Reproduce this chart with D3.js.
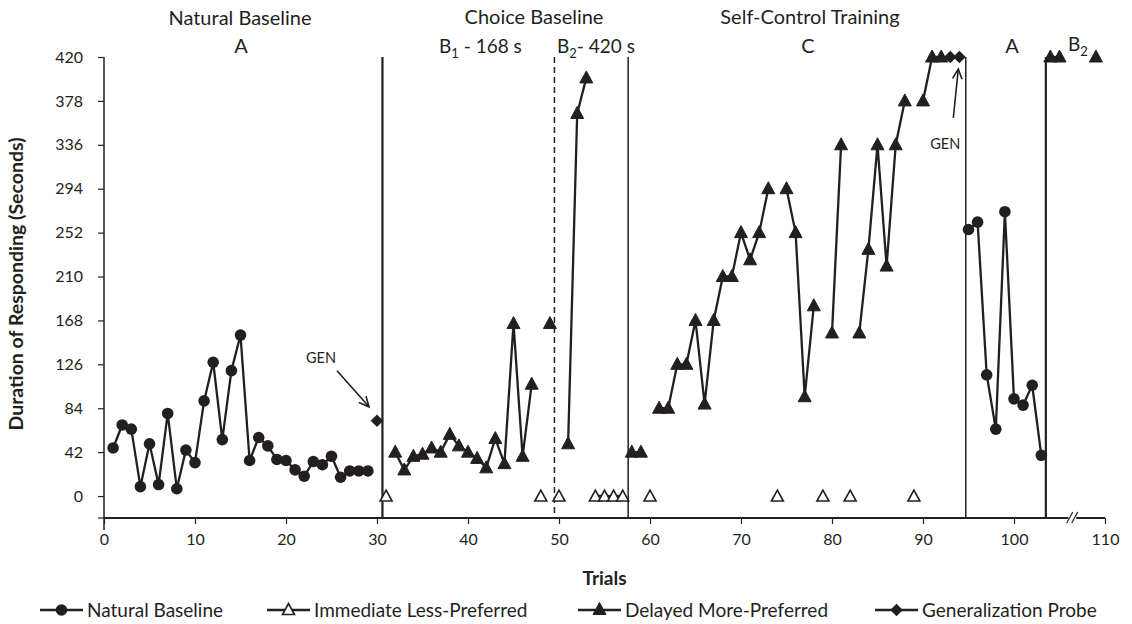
<!DOCTYPE html>
<html>
<head>
<meta charset="utf-8">
<script src="https://cdn.jsdelivr.net/npm/d3@7/dist/d3.min.js"></script>
<style>
  html, body { margin: 0; padding: 0; background: #fff; }
  svg { display: block; font-family: Lato, "Open Sans", sans-serif; }
</style>
</head>
<body>
<svg id="chart" width="1132" height="624"></svg>
<script>
// ---------------- data ----------------
const naturalTrials = [1,2,3,4,5,6,7,8,9,10,11,12,13,14,15,16,17,18,19,20,21,22,23,24,25,26,27,28,29,
                       95,96,97,98,99,100,101,102,103];
const naturalValues = [46,68,64,9,50,11,79,7,44,32,91,128,54,120,154,34,56,48,35,34,25,19,33,30,38,18,24,24,24,
                       255,262,116,64,272,93,87,106,39];

const immediateTrials = [31,48,50,54,55,56,57,60,74,79,82,89];
const immediateValues = [0,0,0,0,0,0,0,0,0,0,0,0];

const delayedTrials = [32,33,34,35,36,37,38,39,40,41,42,43,44,45,46,47,49,51,52,53,58,59,
                       61,62,63,64,65,66,67,68,69,70,71,72,73,75,76,77,78,80,81,83,84,85,86,87,88,90,91,92,
                       104,105,109];
const delayedValues = [42,25,38,40,46,42,59,48,42,36,27,55,31,165,38,107,165,50,366,400,42,42,
                       84,84,126,126,168,88,168,210,210,252,226,252,294,294,252,95,182,156,336,156,236,336,220,336,378,378,420,420,
                       420,420,420];

const probeTrials = [30,93,94];
const probeValues = [72,420,420];

const yTicks = [0,42,84,126,168,210,252,294,336,378,420];
const xTicks = [0,10,20,30,40,50,60,70,80,90,100,110];

const phaseLines = [30.6, 49.5, 57.6, 94.7, 103.5];
const phaseDashed = [false, true, false, false, false];
const phaseWidths = [2.2, 1.5, 1.5, 1.5, 2.2];

const seriesNames = ["Natural Baseline","Immediate Less-Preferred","Delayed More-Preferred","Generalization Probe"];

// ---------------- setup ----------------
const ink = "#231f20";
const svg = d3.select("#chart");
const x = d3.scaleLinear().domain([0,110]).range([104,1105]);
const y = d3.scaleLinear().domain([-21,420]).range([518,57]);

// axes
const yAxis = d3.axisLeft(y).tickValues(yTicks).tickSize(6).tickPadding(15).tickFormat(d3.format("d"));
const gy = svg.append("g").attr("transform", `translate(${x(0)},0)`).call(yAxis);
gy.select(".domain").remove();
gy.append("line").attr("x1",0).attr("x2",0).attr("y1",y(420)).attr("y2",y(-21)+12)
  .attr("stroke",ink).attr("stroke-width",1.5);
gy.append("line").attr("x1",-6).attr("x2",0).attr("y1",y(-21)).attr("y2",y(-21))
  .attr("stroke",ink).attr("stroke-width",1.2);
gy.selectAll(".tick line").attr("stroke",ink).attr("stroke-width",1.2);
gy.selectAll(".tick text").attr("fill",ink).style("font-size","16px").style("font-family","Lato");

const xAxis = d3.axisBottom(x).tickValues(xTicks).tickSize(6).tickPadding(10).tickFormat(d3.format("d"));
const gx = svg.append("g").attr("transform", `translate(0,${y(-21)})`).call(xAxis);
gx.select(".domain").attr("d", `M${x(0)},0H${x(110)}`).attr("stroke",ink).attr("stroke-width",2);
gx.selectAll(".tick line").attr("stroke",ink).attr("stroke-width",1.2);
gx.selectAll(".tick text").attr("fill",ink).style("font-size","16px").style("font-family","Lato");

// axis break
const bx = x(106.4);
gx.append("rect").attr("x",bx-4).attr("y",-3).attr("width",8).attr("height",6).attr("fill","#fff");
[-2.5,2.5].forEach(o => {
  gx.append("line").attr("x1",bx+o-3).attr("y1",5).attr("x2",bx+o+3).attr("y2",-6)
    .attr("stroke",ink).attr("stroke-width",1.2);
});

// axis titles
svg.append("text").attr("x",(x(0)+x(110))/2).attr("y",585).attr("text-anchor","middle")
  .attr("fill",ink).style("font-size","19px").style("font-weight","bold").text("Trials");
svg.append("text").attr("transform","translate(23,284) rotate(-90)").attr("text-anchor","middle")
  .attr("fill",ink).style("font-size","19.5px").style("font-weight","bold").text("Duration of Responding (Seconds)");

// phase lines
phaseLines.forEach((p,i) => {
  svg.append("line").attr("x1",x(p)).attr("x2",x(p)).attr("y1",y(420)).attr("y2",y(-21))
    .attr("stroke",ink).attr("stroke-width",phaseWidths[i])
    .attr("stroke-dasharray", phaseDashed[i] ? "6,4" : null);
});

// phase labels
const lab = (tx,ty,t,size) => svg.append("text").attr("x",tx).attr("y",ty).attr("text-anchor","middle")
  .attr("fill",ink).style("font-size",(size||20)+"px").text(t);
lab(240,25,"Natural Baseline");
lab(241,53,"A");
lab(534,24,"Choice Baseline");
lab(810,24,"Self-Control Training");
lab(808,53,"C");
lab(1012,53,"A");
function subLabel(tx,ty,sub,rest){
  const t = svg.append("text").attr("x",tx).attr("y",ty).attr("fill",ink).style("font-size","19px");
  t.append("tspan").text("B");
  t.append("tspan").attr("dy",5).style("font-size","13px").text(sub);
  t.append("tspan").attr("dy",-5).text(rest);
}
subLabel(439,53,"1"," - 168 s");
subLabel(557,53,"2","- 420 s");
subLabel(1068,51,"2","");

// ---------------- marks ----------------
function pairs(ts, vs){ return ts.map((t,i)=>({t, v:vs[i]})); }
function segments(data){
  const segs = []; let cur = [];
  data.forEach((d,i) => {
    if (i>0 && d.t - data[i-1].t > 1) { segs.push(cur); cur = []; }
    cur.push(d);
  });
  if (cur.length) segs.push(cur);
  return segs;
}
const line = d3.line().x(d=>x(d.t)).y(d=>y(d.v));

function drawLines(data){
  segments(data).forEach(s => {
    if (s.length>1) svg.append("path").attr("d",line(s)).attr("fill","none")
      .attr("stroke",ink).attr("stroke-width",2.3).attr("stroke-linejoin","round");
  });
}
const triPath = "M0,-7L6.5,5L-6.5,5Z";
const diaPath = "M0,-6.3L6.3,0L0,6.3L-6.3,0Z";
function markCircle(g,cx,cy){ g.append("circle").attr("cx",cx).attr("cy",cy).attr("r",5.8).attr("fill",ink); }
function markTri(g,cx,cy,open){
  g.append("path").attr("d", open ? "M0,-6L6,5L-6,5Z" : triPath).attr("transform",`translate(${cx},${cy})`)
    .attr("fill", open ? "#fff" : ink).attr("stroke",ink).attr("stroke-width", open?1.6:1);
}
function markDia(g,cx,cy){ g.append("path").attr("d",diaPath).attr("transform",`translate(${cx},${cy})`).attr("fill",ink); }

const natural = pairs(naturalTrials, naturalValues);
const immediate = pairs(immediateTrials, immediateValues);
const delayed = pairs(delayedTrials, delayedValues);
const probe = pairs(probeTrials, probeValues);

drawLines(natural); drawLines(immediate); drawLines(delayed); drawLines(probe);
const gm = svg.append("g");
natural.forEach(d => markCircle(gm, x(d.t), y(d.v)));
delayed.forEach(d => markTri(gm, x(d.t), y(d.v), false));
immediate.forEach(d => markTri(gm, x(d.t), y(d.v), true));
probe.forEach(d => markDia(gm, x(d.t), y(d.v)));

// GEN annotations
function arrow(x1,y1,x2,y2){
  svg.append("line").attr("x1",x1).attr("y1",y1).attr("x2",x2).attr("y2",y2).attr("stroke",ink).attr("stroke-width",1.6);
  const a = Math.atan2(y2-y1,x2-x1), L = 11, w = 0.45;
  const p1 = [x2 - L*Math.cos(a-w), y2 - L*Math.sin(a-w)];
  const p2 = [x2 - L*Math.cos(a+w), y2 - L*Math.sin(a+w)];
  svg.append("path").attr("d",`M${p1}L${x2},${y2}L${p2}`).attr("fill","none").attr("stroke",ink).attr("stroke-width",1.6);
}
const g1x = x(probeTrials[0]), g1y = y(probeValues[0]);
svg.append("text").attr("x",g1x-56).attr("y",g1y-58).attr("text-anchor","middle").attr("fill",ink)
  .style("font-size","14.5px").text("GEN");
arrow(g1x-40, g1y-50, g1x-8, g1y-14);
const g2x = x(probeTrials[1]), g2y = y(probeValues[1]);
svg.append("text").attr("x",g2x-5).attr("y",g2y+92).attr("text-anchor","middle").attr("fill",ink)
  .style("font-size","14.5px").text("GEN");
arrow(g2x+3, g2y+61, g2x+8, g2y+12);

// ---------------- legend ----------------
const legX = [40, 267, 578, 875];
const ly = 610;
seriesNames.forEach((name,i) => {
  const lx = legX[i];
  svg.append("line").attr("x1",lx).attr("x2",lx+43).attr("y1",ly).attr("y2",ly).attr("stroke",ink).attr("stroke-width",2.3);
  const cx = lx+21.5;
  if (i===0) markCircle(svg,cx,ly);
  if (i===1) markTri(svg,cx,ly-0.5,true);
  if (i===2) markTri(svg,cx,ly-0.5,false);
  if (i===3) markDia(svg,cx,ly);
  svg.append("text").attr("x",lx+47).attr("y",ly+7).attr("fill",ink).style("font-size","19px").text(name);
});
</script>
</body>
</html>
